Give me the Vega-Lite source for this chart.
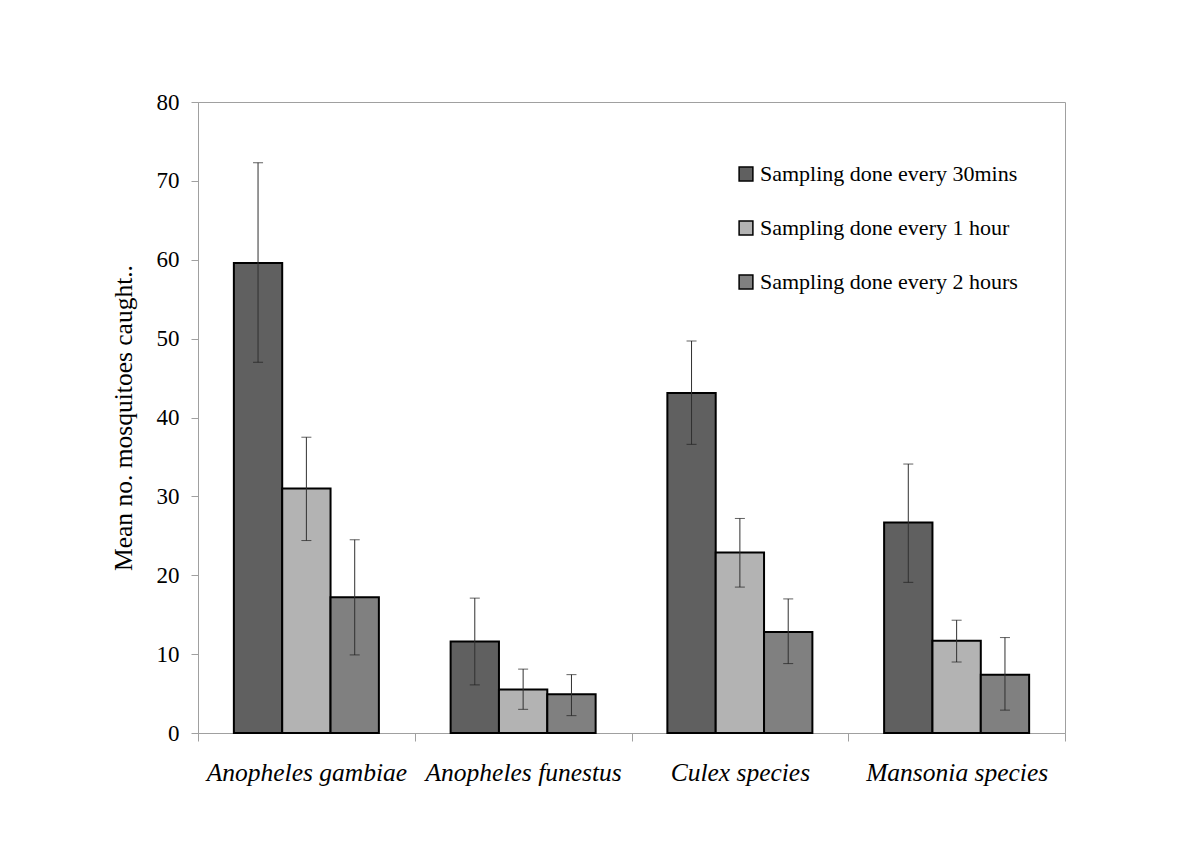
{
  "$schema": "https://vega.github.io/schema/vega-lite/v6.json",
  "width": 867,
  "height": 631,
  "autosize": {"type": "none"},
  "padding": {"left": 198, "top": 102, "right": 135, "bottom": 115},
  "background": "white",
  "config": {
    "view": {"stroke": "#a0a0a0", "strokeWidth": 1},
    "font": "Liberation Serif"
  },
  "data": {
    "values": [
      {"species": "Anopheles gambiae", "sampling": "Sampling done every 30mins", "mean": 59.6, "lo": 47.0, "hi": 72.3},
      {"species": "Anopheles gambiae", "sampling": "Sampling done every 1 hour", "mean": 31.0, "lo": 24.4, "hi": 37.5},
      {"species": "Anopheles gambiae", "sampling": "Sampling done every 2 hours", "mean": 17.2, "lo": 9.9, "hi": 24.5},
      {"species": "Anopheles funestus", "sampling": "Sampling done every 30mins", "mean": 11.6, "lo": 6.1, "hi": 17.1},
      {"species": "Anopheles funestus", "sampling": "Sampling done every 1 hour", "mean": 5.5, "lo": 3.0, "hi": 8.1},
      {"species": "Anopheles funestus", "sampling": "Sampling done every 2 hours", "mean": 4.9, "lo": 2.2, "hi": 7.4},
      {"species": "Culex species", "sampling": "Sampling done every 30mins", "mean": 43.1, "lo": 36.6, "hi": 49.7},
      {"species": "Culex species", "sampling": "Sampling done every 1 hour", "mean": 22.9, "lo": 18.5, "hi": 27.2},
      {"species": "Culex species", "sampling": "Sampling done every 2 hours", "mean": 12.8, "lo": 8.8, "hi": 17.0},
      {"species": "Mansonia species", "sampling": "Sampling done every 30mins", "mean": 26.7, "lo": 19.1, "hi": 34.1},
      {"species": "Mansonia species", "sampling": "Sampling done every 1 hour", "mean": 11.7, "lo": 9.0, "hi": 14.3},
      {"species": "Mansonia species", "sampling": "Sampling done every 2 hours", "mean": 7.4, "lo": 2.9, "hi": 12.1}
    ]
  },
  "encoding": {
    "x": {
      "field": "species",
      "type": "nominal",
      "sort": ["Anopheles gambiae", "Anopheles funestus", "Culex species", "Mansonia species"],
      "scale": {"paddingInner": 0, "paddingOuter": 0},
      "axis": {
        "title": null,
        "labelAngle": 0,
        "labelFont": "Liberation Serif",
        "labelFontStyle": "italic",
        "labelFontSize": 25.5,
        "labelColor": "black",
        "labelPadding": 19,
        "labelLimit": 0,
        "tickBand": "extent",
        "tickSize": 8,
        "tickColor": "#a0a0a0",
        "domainColor": "#a0a0a0"
      }
    },
    "xOffset": {
      "field": "sampling",
      "type": "nominal",
      "sort": ["Sampling done every 30mins", "Sampling done every 1 hour", "Sampling done every 2 hours"],
      "scale": {"paddingInner": 0, "paddingOuter": 0.742}
    }
  },
  "layer": [
    {
      "mark": {"type": "bar", "stroke": "black", "strokeWidth": 2},
      "encoding": {
        "y": {
          "field": "mean",
          "type": "quantitative",
          "scale": {"domain": [0, 80]},
          "axis": {
            "title": "Mean no. mosquitoes caught..",
            "titleFont": "Liberation Serif",
            "titleFontSize": 25.5,
            "titleFontWeight": "normal",
            "titleColor": "black",
            "titlePadding": 20,
            "values": [0, 10, 20, 30, 40, 50, 60, 70, 80],
            "labelFont": "Liberation Serif",
            "labelFontSize": 23,
            "labelColor": "black",
            "labelPadding": 12,
            "tickSize": 7,
            "tickColor": "#a0a0a0",
            "domainColor": "#a0a0a0",
            "grid": false
          }
        },
        "color": {
          "field": "sampling",
          "type": "nominal",
          "sort": ["Sampling done every 30mins", "Sampling done every 1 hour", "Sampling done every 2 hours"],
          "scale": {
            "domain": ["Sampling done every 30mins", "Sampling done every 1 hour", "Sampling done every 2 hours"],
            "range": ["#606060", "#b3b3b3", "#808080"]
          },
          "legend": {
            "title": null,
            "orient": "none",
            "legendX": 537,
            "legendY": 61,
            "symbolType": "square",
            "symbolSize": 190,
            "symbolStrokeColor": "black",
            "symbolStrokeWidth": 1.5,
            "symbolOpacity": 1,
            "labelFont": "Liberation Serif",
            "labelFontSize": 22,
            "labelColor": "black",
            "labelLimit": 0,
            "labelOffset": 3,
            "rowPadding": 32
          }
        }
      }
    },
    {
      "mark": {"type": "rule", "color": "#303030", "strokeWidth": 1},
      "encoding": {
        "y": {"field": "lo", "type": "quantitative"},
        "y2": {"field": "hi"}
      }
    },
    {
      "mark": {"type": "tick", "color": "#202020", "thickness": 1, "size": 10},
      "encoding": {"y": {"field": "lo", "type": "quantitative"}}
    },
    {
      "mark": {"type": "tick", "color": "#202020", "thickness": 1, "size": 10},
      "encoding": {"y": {"field": "hi", "type": "quantitative"}}
    }
  ]
}
